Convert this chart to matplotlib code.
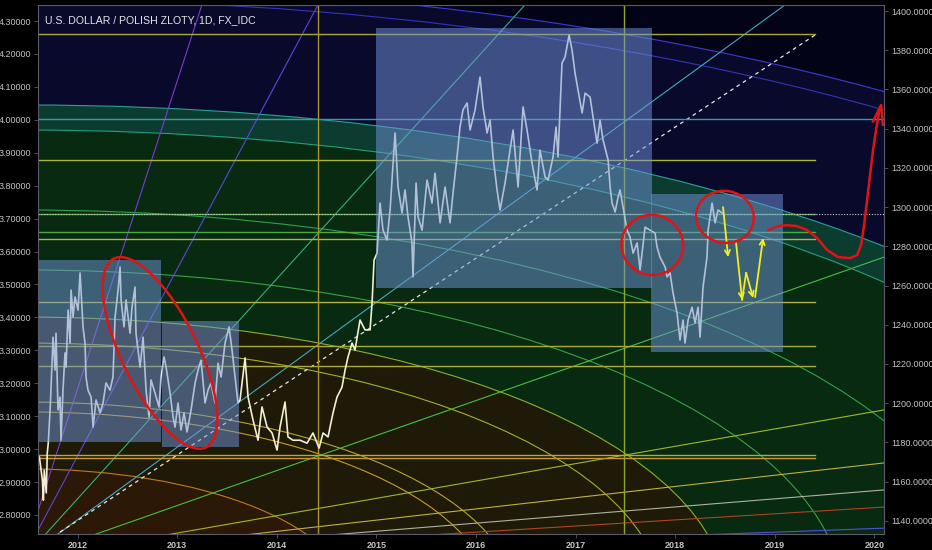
import numpy as np
import matplotlib.pyplot as plt
from matplotlib.patches import Ellipse, Rectangle
from matplotlib.transforms import Affine2D

plt.rcParams['font.family'] = ['Liberation Sans', 'DejaVu Sans']

# USD/PLN daily close (decimal year, price)
t = [2011.617, 2011.647, 2011.657, 2011.666, 2011.686, 2011.696, 2011.706, 2011.726,
     2011.736, 2011.754, 2011.774, 2011.784, 2011.804, 2011.824, 2011.834, 2011.854,
     2011.874, 2011.885, 2011.905, 2011.925, 2011.935, 2011.955, 2011.975, 2012.005,
     2012.025, 2012.035, 2012.055, 2012.075, 2012.085, 2012.105, 2012.136, 2012.156,
     2012.186, 2012.226, 2012.256, 2012.286, 2012.326, 2012.356, 2012.377, 2012.407,
     2012.427, 2012.437, 2012.467, 2012.487, 2012.527, 2012.547, 2012.577, 2012.587,
     2012.628, 2012.658, 2012.688, 2012.718, 2012.738, 2012.778, 2012.818, 2012.838,
     2012.868, 2012.889, 2012.929, 2012.959, 2012.979, 2013.009, 2013.039, 2013.069,
     2013.099, 2013.140, 2013.180, 2013.210, 2013.240, 2013.280, 2013.310, 2013.340,
     2013.380, 2013.411, 2013.441, 2013.481, 2013.521, 2013.551, 2013.581, 2013.611,
     2013.631, 2013.682, 2013.712, 2013.762, 2013.812, 2013.852, 2013.903, 2013.953,
     2014.003, 2014.033, 2014.083, 2014.113, 2014.163, 2014.234, 2014.304, 2014.364,
     2014.425, 2014.465, 2014.515, 2014.565, 2014.605, 2014.655, 2014.686, 2014.716,
     2014.756, 2014.786, 2014.836, 2014.886, 2014.937, 2014.957, 2014.977, 2015.007,
     2015.037, 2015.067, 2015.107, 2015.138, 2015.188, 2015.218, 2015.258, 2015.288,
     2015.318, 2015.358, 2015.368, 2015.399, 2015.419, 2015.459, 2015.509, 2015.559,
     2015.589, 2015.640, 2015.690, 2015.740, 2015.770, 2015.810, 2015.840, 2015.870,
     2015.911, 2015.941, 2015.991, 2016.041, 2016.071, 2016.112, 2016.142, 2016.172,
     2016.212, 2016.242, 2016.292, 2016.342, 2016.373, 2016.423, 2016.473, 2016.513,
     2016.563, 2016.613, 2016.643, 2016.694, 2016.724, 2016.774, 2016.804, 2016.824,
     2016.864, 2016.895, 2016.935, 2016.965, 2016.995, 2017.025, 2017.066, 2017.096,
     2017.146, 2017.176, 2017.216, 2017.246, 2017.276, 2017.327, 2017.347, 2017.367,
     2017.397, 2017.427, 2017.447, 2017.477, 2017.517, 2017.547, 2017.578, 2017.618,
     2017.648, 2017.698, 2017.748, 2017.798, 2017.818, 2017.848, 2017.899, 2017.919,
     2017.949, 2017.979, 2018.019, 2018.049, 2018.079, 2018.099, 2018.130, 2018.170,
     2018.200, 2018.230, 2018.250, 2018.280, 2018.320, 2018.331, 2018.371, 2018.401,
     2018.431, 2018.471]
close = [2.976, 2.906, 2.845, 2.936, 2.867, 2.988, 3.018, 3.128,
         3.201, 3.340, 3.240, 3.352, 3.119, 3.158, 3.027, 3.179,
         3.292, 3.249, 3.422, 3.322, 3.483, 3.401, 3.462, 3.422,
         3.535, 3.483, 3.371, 3.322, 3.219, 3.179, 3.158, 3.067,
         3.149, 3.110, 3.140, 3.201, 3.179, 3.219, 3.401, 3.483,
         3.553, 3.453, 3.371, 3.453, 3.352, 3.431, 3.492, 3.352,
         3.249, 3.340, 3.179, 3.097, 3.210, 3.170, 3.128, 3.219,
         3.280, 3.249, 3.170, 3.097, 3.067, 3.140, 3.058, 3.110,
         3.052, 3.119, 3.201, 3.240, 3.270, 3.140, 3.179, 3.201,
         3.140, 3.261, 3.219, 3.322, 3.371, 3.301, 3.219, 3.140,
         3.149, 3.277, 3.158, 3.088, 3.027, 3.128, 3.067, 3.049,
         2.997, 3.067, 3.143, 3.037, 3.027, 3.027, 3.018, 3.049,
         3.003, 3.049, 3.037, 3.110, 3.158, 3.188, 3.240, 3.280,
         3.322, 3.301, 3.392, 3.362, 3.362, 3.444, 3.574, 3.595,
         3.747, 3.665, 3.635, 3.726, 3.960, 3.796, 3.717, 3.787,
         3.705, 3.626, 3.523, 3.808, 3.705, 3.665, 3.817, 3.747,
         3.838, 3.687, 3.796, 3.687, 3.778, 3.887, 3.978, 4.030,
         4.051, 3.969, 4.030, 4.130, 4.039, 3.960, 3.999, 3.887,
         3.787, 3.726, 3.808, 3.908, 3.969, 3.796, 4.039, 3.969,
         3.869, 3.787, 3.908, 3.826, 3.817, 3.887, 3.978, 3.887,
         4.172, 4.191, 4.257, 4.212, 4.142, 4.090, 4.021, 4.081,
         4.069, 4.008, 3.929, 3.999, 3.939, 3.878, 3.796, 3.747,
         3.720, 3.765, 3.787, 3.735, 3.665, 3.644, 3.595, 3.626,
         3.544, 3.674, 3.665, 3.656, 3.614, 3.583, 3.553, 3.523,
         3.535, 3.474, 3.413, 3.331, 3.392, 3.322, 3.392, 3.431,
         3.383, 3.431, 3.340, 3.492, 3.583, 3.665, 3.747, 3.687,
         3.726, 3.717]

# horizontal levels
level_price = [4.260, 4.002, 3.877, 3.714, 3.659, 3.638, 3.447, 3.313, 3.252, 2.982, 2.973]
level_color = ['#a8a832', '#3a98a8', '#a8b832', '#58a848', '#4ea848', '#b4b436',
               '#b4b436', '#a8ac30', '#a8ac30', '#b8a834', '#c89a30']
level_full = [False, True, False, False, False, False, False, False, False, False, False]
level_end = 2019.40

vline_year = [2014.415, 2017.485]
vline_color = ['#a89428', '#8ca828']

# gann fan
fan_origin = (2011.443, 2.663)
fan_end_year = [2013.248, 2014.413, 2016.491, 2019.102, 2020.097, 2020.097, 2020.097,
                2020.097, 2020.097, 2020.097]
fan_end_price = [4.3486, 4.3486, 4.3486, 4.3486, 3.583, 3.119, 2.958, 2.876, 2.824, 2.760]
fan_color = ['#7a3ad0', '#5a48d8', '#34b07c', '#40a8c0', '#44c044', '#a0b828',
             '#c0b040', '#b0b0a0', '#b04424', '#5050e0']

# dashed trend line
trend_year = [2011.824, 2019.405]
trend_price = [2.748, 4.2575]

# gann arcs (price half-axis; time half-axis = ratio * price half-axis)
arc_center = (2011.473, 2.542)
arc_ratio = 8.2
arc_radius = [0.398, 0.571, 0.601, 0.780, 0.859, 1.002, 1.184, 1.427, 1.503, 1.822, 1.868]
arc_color = ['#c07a1e', '#c89a2a', '#b4a62c', '#a0b02e', '#88b030', '#3ca040',
             '#30a050', '#22a07a', '#2aa094', '#3434b8', '#3c3cd0']
band_radius = [1.868, 1.503, 1.427, 0.859, 0.398]
band_color = ['#09092c', '#0c3b30', '#072a10', '#1e1a07', '#2c1807']

# translucent boxes
box_x0 = [2011.615, 2012.850, 2015.000, 2017.755]
box_x1 = [2012.840, 2013.620, 2017.770, 2019.080]
box_y0 = [3.0225, 3.007, 3.489, 3.296]
box_y1 = [3.574, 3.389, 4.279, 3.775]

# hand drawn red path and yellow arrows
red_year = [2018.933, 2019.033, 2019.124, 2019.224, 2019.325, 2019.425, 2019.525, 2019.636,
            2019.756, 2019.827, 2019.867, 2019.897, 2019.927, 2019.957, 2019.987, 2020.017,
            2020.047, 2020.068]
red_price = [3.665, 3.677, 3.680, 3.677, 3.665, 3.641, 3.605, 3.583,
             3.580, 3.589, 3.620, 3.680, 3.756, 3.832, 3.908, 3.969,
             4.021, 4.039]
arrows = [((2018.481, 3.735), (2018.532, 3.583)),
          ((2018.612, 3.626), (2018.672, 3.453)),
          ((2018.713, 3.535), (2018.783, 3.459)),
          ((2018.803, 3.462), (2018.883, 3.641))]
zig_year = [2018.672, 2018.713]
zig_price = [3.453, 3.535]

# red circles: centre (year, price), width/height in pixels, angle
circles = [((2012.828, 3.292), 210, 76, -64),
           ((2017.770, 3.620), 62, 60, -20),
           ((2018.500, 3.705), 58, 52, -10)]

x0, x1 = 2011.603, 2020.097
y0, y1 = 2.7422, 4.3486

fig = plt.figure(figsize=(9.32, 5.5), dpi=100, facecolor='black')
ax = fig.add_axes([38 / 932, 16 / 550, 846 / 932, 529 / 550])
ax.set_facecolor('#030318')
ax.set_xlim(x0, x1)
ax.set_ylim(y0, y1)

# arc bands
for i, (r, c) in enumerate(zip(band_radius, band_color)):
    ax.add_patch(Ellipse(arc_center, 2 * r * arc_ratio, 2 * r, facecolor=c,
                         edgecolor='none', zorder=0.1 + i * 0.01))
for r, c in zip(arc_radius, arc_color):
    ax.add_patch(Ellipse(arc_center, 2 * r * arc_ratio, 2 * r, fill=False,
                         edgecolor=c, lw=0.8, zorder=0.5))

# fan lines
for ex, ey, c in zip(fan_end_year, fan_end_price, fan_color):
    ax.plot([fan_origin[0], ex], [fan_origin[1], ey], color=c, lw=0.8, zorder=0.6)
ax.plot(trend_year, trend_price, color='#e8e8e8', lw=0.9, ls=(0, (3, 3)), zorder=0.7)

# levels
for p, c, full in zip(level_price, level_color, level_full):
    ax.plot([x0, x1 if full else level_end], [p, p], color=c, lw=1.0, zorder=0.8)
ax.plot([x0, x1], [3.714, 3.714], color='#d0d0d0', lw=0.8, ls=(0, (1, 1.5)), zorder=0.85)
for v, c in zip(vline_year, vline_color):
    ax.axvline(v, color=c, lw=1.0, zorder=0.8)

# price
ax.plot(t, close, color='#f2eed2', lw=1.2, zorder=2)

# boxes
for a, b, c, d in zip(box_x0, box_x1, box_y0, box_y1):
    ax.add_patch(Rectangle((a, c), b - a, d - c, facecolor='#7296dc', alpha=0.5,
                           edgecolor='none', zorder=3))

# annotations
ax.plot(red_year, red_price, color='#e01414', lw=1.8, zorder=4, solid_capstyle='round')
ax.plot([2019.987, 2020.068, 2020.085], [3.995, 4.045, 3.985], color='#e01414', lw=1.8,
        zorder=4)
ax.plot(zig_year, zig_price, color='#f0f020', lw=1.3, zorder=4)
for (sx, sy), (ex, ey) in arrows:
    ax.annotate('', xy=(ex, ey), xytext=(sx, sy), zorder=4,
                arrowprops=dict(arrowstyle='->', color='#f0f020', lw=1.3,
                                mutation_scale=9, shrinkA=0, shrinkB=0))

fig.canvas.draw()
for (cx, cy), w, h, ang in circles:
    e = Ellipse((0, 0), w, h, angle=ang, fill=False, edgecolor='#e01414', lw=1.8,
                zorder=4)
    e.set_transform(Affine2D().translate(*ax.transData.transform((cx, cy))))
    e.set_clip_on(False)
    ax.add_artist(e)

# axes styling
for s in ax.spines.values():
    s.set_color('#5a5a6a')
    s.set_linewidth(0.8)
ax.set_yticks(np.round(np.arange(2.8, 4.301, 0.1), 2))
ax.set_yticklabels([f'{v:.5f}' for v in np.arange(2.8, 4.301, 0.1)])
ax.set_xticks(range(2012, 2021))
ax.set_xticklabels([str(y) for y in range(2012, 2021)], fontweight='bold')
ax.tick_params(axis='x', colors='#5a5a6a', labelcolor='#c4c4c4', labelsize=6.5,
               length=3, width=0.6, pad=2)
ax.tick_params(axis='y', colors='#5a5a6a', labelcolor='#c4c4c4', labelsize=6.5,
               length=3, width=0.6, pad=2)


def to_right(p):
    return 1394.9 - (4.30 - p) * 167.93


def to_left(r):
    return 4.30 - (1394.9 - r) / 167.93


ax2 = ax.secondary_yaxis('right', functions=(to_right, to_left))
ax2.set_yticks(range(1140, 1401, 20))
ax2.set_yticklabels([f'{v:.4f}' for v in range(1140, 1401, 20)])
ax2.tick_params(colors='#5a5a6a', labelcolor='#c4c4c4', labelsize=6.5, length=3,
                width=0.6, pad=2)
ax2.spines['right'].set_color('#5a5a6a')

ax.text(7 / 846, 0.972, 'U.S. DOLLAR / POLISH ZLOTY, 1D, FX_IDC',
        transform=ax.transAxes, color='#e6e6e6', fontsize=7.6, family='Liberation Sans',
        va='center', ha='left', zorder=6)

fig.savefig('out.png', dpi=100, facecolor='black')
